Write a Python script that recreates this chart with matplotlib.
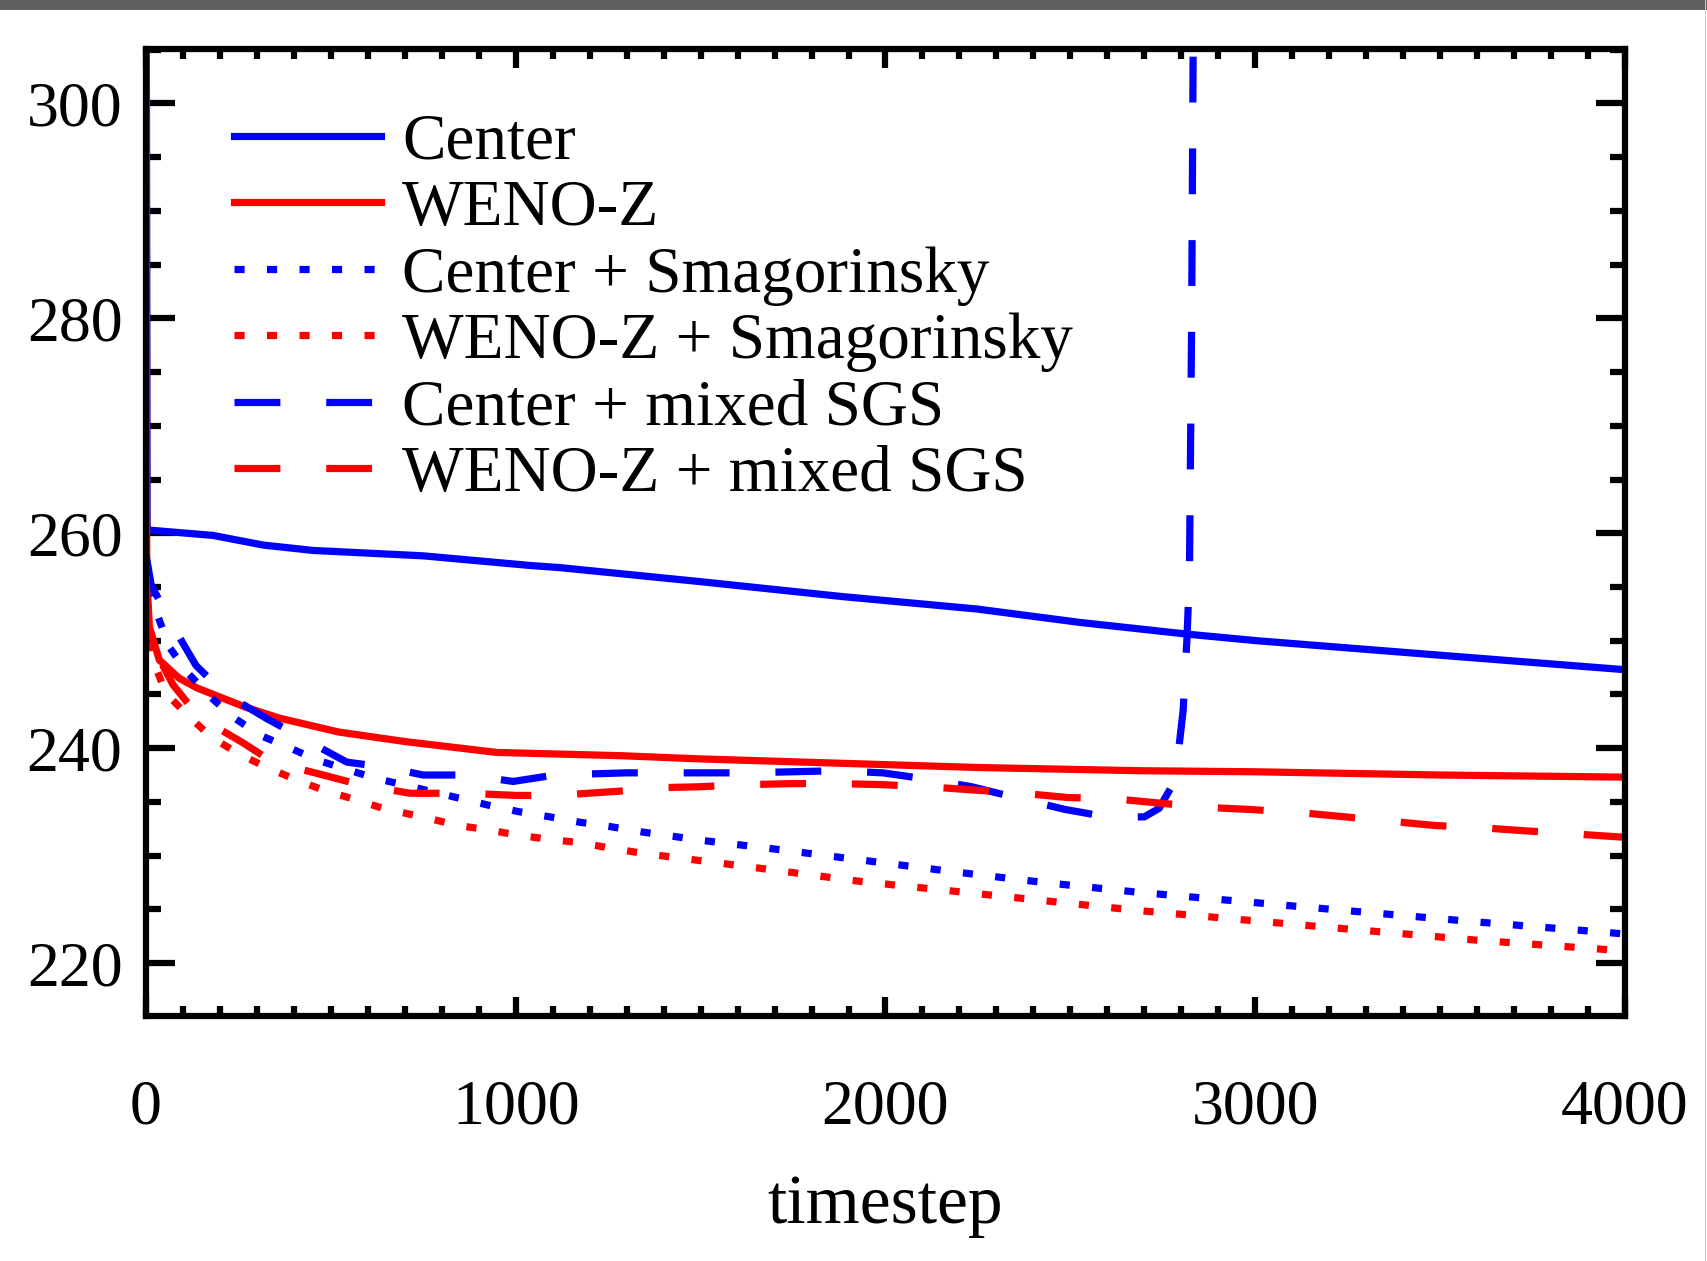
import matplotlib
matplotlib.use("Agg")
import matplotlib.pyplot as plt
from matplotlib.ticker import MultipleLocator
from matplotlib.patches import Rectangle

plt.rcParams['font.family'] = ['Liberation Serif', 'DejaVu Serif']

# Center
center_x = [0, 3, 6, 181, 317, 452, 749, 1039, 1120, 1498, 1885, 2247, 2526, 2819, 3004, 3481, 4000]
center_y = [330, 260.6, 260.3, 259.8, 258.9, 258.4, 257.9, 257.0, 256.8, 255.5, 254.1, 252.95, 251.7, 250.6, 250.0, 248.7, 247.3]

# WENO-Z
weno_x = [0, 2, 9, 36, 90, 138, 270, 360, 521, 703, 949, 1282, 1498, 2247, 2688, 3000, 3500, 4000]
weno_y = [330, 256, 251.3, 248.2, 246.5, 245.6, 243.8, 242.8, 241.5, 240.6, 239.6, 239.3, 239.0, 238.2, 237.9, 237.8, 237.5, 237.3]

# Center + Smagorinsky
csmag_x = [0, 5, 33, 63, 113, 173, 235, 308, 384, 462, 619, 695, 840, 925, 1006, 1093, 1174, 1255,
           1341, 1507, 1679, 1931, 2183, 2427, 2679, 3105, 3608, 3932, 4000]
csmag_y = [258, 255.3, 252.2, 249.4, 247.0, 244.8, 242.9, 241.2, 240.1, 238.9, 237.2, 236.6, 235.4, 234.7, 234.1, 233.6, 233.1, 232.7,
           232.2, 231.4, 230.7, 229.6, 228.5, 227.5, 226.6, 225.3, 223.8, 222.9, 222.7]

# WENO-Z + Smagorinsky
wsmag_x = [0, 8, 22, 54, 117, 178, 249, 327, 403, 479, 557, 641, 760, 844, 925, 1006, 1093, 1174, 1255,
           1345, 1598, 1931, 2264, 2679, 3105, 3608, 3932, 4000]
wsmag_y = [256, 250.5, 247.9, 245.1, 242.9, 241.0, 239.5, 238.2, 237.1, 236.1, 235.3, 234.4, 233.5, 232.8, 232.4, 231.9, 231.5, 231.2, 230.7,
           230.2, 229.1, 227.6, 226.4, 224.9, 223.6, 222.1, 221.3, 221.1]

# Center + mixed SGS
cmix_x = [0, 14, 67, 135, 212, 324, 425, 543, 652, 749, 870, 993, 1106, 1300, 1480, 1625, 1747, 1869, 1993,
          2115, 2234, 2364, 2485, 2599, 2700, 2740, 2770, 2790, 2805, 2815, 2822, 2828, 2836]
cmix_y = [258, 255.2, 251.7, 247.7, 245.1, 242.8, 240.9, 238.7, 238.2, 237.5, 237.5, 236.9, 237.5, 237.7, 237.7, 237.7, 237.8, 237.9, 237.7,
          237.1, 236.4, 235.3, 234.3, 233.6, 233.6, 234.4, 236.2, 239.0, 243.5, 250.0, 256.0, 280.0, 330.0]

# WENO-Z + mixed SGS
wmix_x = [0, 10, 73, 143, 262, 343, 479, 579, 714, 868, 1000, 1110, 1282, 1363, 1490, 1625, 1747, 1871, 1993,
          2115, 2240, 2370, 2494, 2615, 2737, 2859, 2981, 3121, 3245, 3364, 3486, 3608, 3732, 3870, 4000]
wmix_y = [256, 250, 245.9, 242.9, 240.5, 238.7, 237.5, 236.6, 235.8, 235.8, 235.6, 235.6, 236.0, 236.3, 236.4, 236.6, 236.7, 236.7, 236.6,
          236.4, 236.1, 235.8, 235.4, 235.3, 234.9, 234.5, 234.3, 234.0, 233.6, 233.2, 232.8, 232.6, 232.3, 232.0, 231.7]

labels = ['Center', 'WENO-Z', 'Center + Smagorinsky', 'WENO-Z + Smagorinsky',
          'Center + mixed SGS', 'WENO-Z + mixed SGS']

fig = plt.figure(figsize=(17.08, 12.61), dpi=100)
ax = fig.add_axes([146/1708, 1-1016/1261, 1479/1708, 967/1261])

lw = 5.2
dot = (1.4, 3.1)
dash = (6.35, 6.35)
ax.plot(center_x, center_y, color='#0000ff', lw=lw, label=labels[0])
ax.plot(weno_x, weno_y, color='#ff0000', lw=lw, label=labels[1])
ax.plot(csmag_x, csmag_y, color='#0000ff', lw=lw, dashes=dot, dash_capstyle='butt', label=labels[2])
ax.plot(wsmag_x, wsmag_y, color='#ff0000', lw=lw, dashes=dot, dash_capstyle='butt', label=labels[3])
ax.plot(cmix_x, cmix_y, color='#0000ff', lw=lw, dashes=dash, dash_capstyle='butt', label=labels[4])
ax.plot(wmix_x, wmix_y, color='#ff0000', lw=lw, dashes=dash, dash_capstyle='butt', label=labels[5])

ax.set_xlim(0, 4000)
ax.set_ylim(215.07, 305.07)
ax.xaxis.set_major_locator(MultipleLocator(1000))
ax.xaxis.set_minor_locator(MultipleLocator(100))
ax.yaxis.set_major_locator(MultipleLocator(20))
ax.yaxis.set_minor_locator(MultipleLocator(5))

for s in ax.spines.values():
    s.set_linewidth(4.5)
ax.tick_params(axis='x', which='major', direction='in', top=True, bottom=True,
               length=14, width=4.5, pad=46, labelsize=46)
ax.tick_params(axis='x', which='minor', direction='in', top=True, bottom=True,
               length=7.5, width=4.5)
ax.tick_params(axis='y', which='major', direction='in', left=True, right=True,
               length=21, width=4.5, pad=17, labelsize=46)
ax.tick_params(axis='y', which='minor', direction='in', left=True, right=True,
               length=11, width=4.5)

ax.set_xlabel('timestep', fontsize=50, labelpad=26)

ax.legend(loc='upper left', bbox_to_anchor=(0.0597, 0.934), frameon=False,
          fontsize=47, handlelength=2.25, handletextpad=0.32, labelspacing=0.105,
          borderpad=0, borderaxespad=0)

# grey strip at the top and thin edge at the right, as in the screenshot
fig.patches.append(Rectangle((0, 1-9.5/1261), 1, 9.5/1261, transform=fig.transFigure,
                             facecolor='#606060', edgecolor='none', zorder=-1))
fig.patches.append(Rectangle((1-3/1708, 0), 1.5/1708, 1, transform=fig.transFigure,
                             facecolor='#c8c8c8', edgecolor='none', zorder=-1))

fig.savefig('out.png', dpi=100)
